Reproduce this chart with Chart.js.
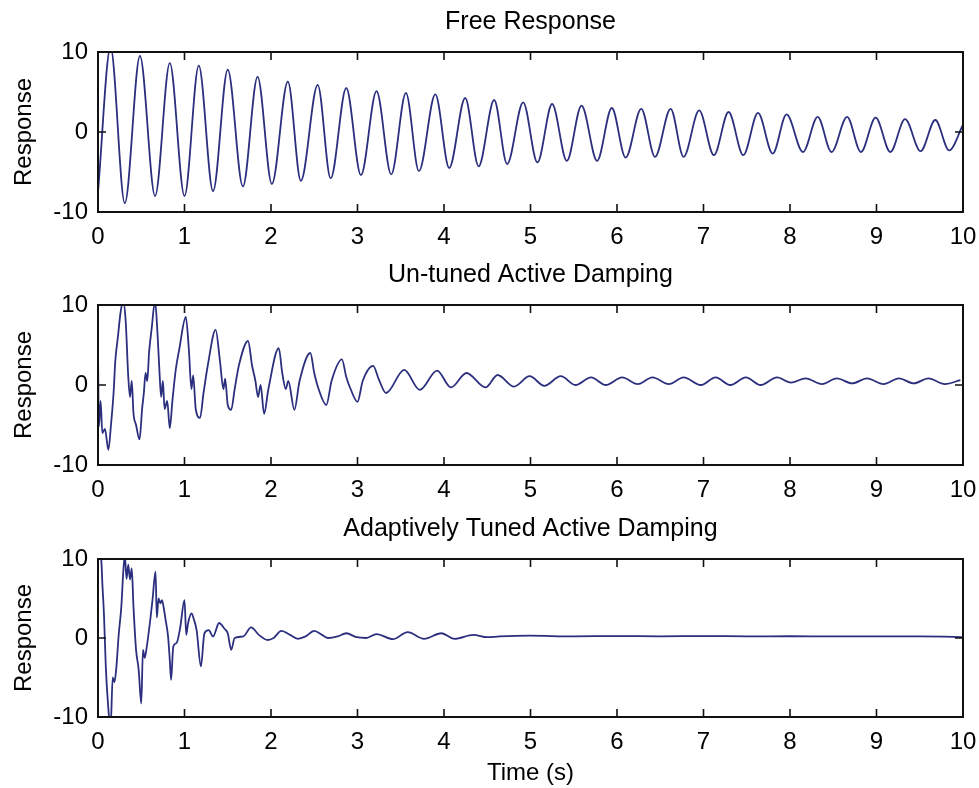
<!DOCTYPE html>
<html>
<head>
<meta charset="utf-8">
<script src="https://cdn.jsdelivr.net/npm/chart.js@4/dist/chart.umd.min.js"></script>
<style>
  body { margin: 0; background: #fff; }
  canvas { position: absolute; left: 0; }
</style>
</head>
<body>
<canvas id="freeCanvas" width="979" height="252" style="top:0px"></canvas>
<canvas id="untunedCanvas" width="979" height="252" style="top:253px"></canvas>
<canvas id="tunedCanvas" width="979" height="281" style="top:507px"></canvas>
<script>
// Free Response: peaks and troughs
const freeTime = [0, 0.145, 0.31, 0.485, 0.66, 0.83, 1.0, 1.165, 1.33, 1.5, 1.675, 1.845, 2.01, 2.195, 2.345, 2.54, 2.69, 2.87, 3.04, 3.22,
  3.39, 3.56, 3.71, 3.9, 4.06, 4.245, 4.4, 4.58, 4.73, 4.915, 5.08, 5.25, 5.42, 5.59, 5.77, 5.94, 6.1, 6.28, 6.44, 6.62,
  6.77, 6.95, 7.12, 7.29, 7.46, 7.63, 7.8, 7.96, 8.15, 8.32, 8.48, 8.66, 8.82, 8.99, 9.16, 9.33, 9.51, 9.68, 9.84, 10];
const freeResp = [-7.5, 10.6, -8.9, 9.5, -8.0, 8.6, -8.0, 8.3, -7.4, 7.8, -6.8, 6.9, -6.5, 6.3, -6.1, 5.9, -5.8, 5.5, -5.4, 5.1,
  -5.3, 4.9, -4.9, 4.7, -4.5, 4.25, -4.3, 4.0, -4.0, 3.7, -3.8, 3.5, -3.6, 3.3, -3.6, 3.0, -3.2, 2.9, -3.1, 2.9,
  -3.1, 2.7, -2.9, 2.5, -2.9, 2.4, -2.7, 2.2, -2.5, 1.9, -2.5, 1.9, -2.5, 1.8, -2.5, 1.6, -2.4, 1.5, -2.3, 0.9];

// Un-tuned Active Damping
const untunedTime = [0, 0.01, 0.03, 0.05, 0.08, 0.12, 0.15, 0.18, 0.2, 0.23, 0.26, 0.29, 0.32, 0.35, 0.37, 0.39, 0.41, 0.44, 0.48,
  0.51, 0.53, 0.55, 0.57, 0.59, 0.62, 0.66, 0.69, 0.71, 0.73, 0.75, 0.77, 0.8, 0.83, 0.86, 0.9, 0.94, 1.015, 1.05, 1.08,
  1.1, 1.13, 1.18, 1.22, 1.27, 1.36, 1.41, 1.45, 1.47, 1.5, 1.54, 1.58, 1.63, 1.735, 1.78, 1.82, 1.85, 1.88, 1.92, 1.97,
  2.09, 2.13, 2.17, 2.2, 2.27, 2.33, 2.455, 2.5, 2.55, 2.64, 2.7, 2.82, 2.87, 2.92, 3.0, 3.06, 3.18, 3.25, 3.33, 3.54,
  3.72, 3.92, 4.08, 4.26, 4.48, 4.62, 4.81, 4.99, 5.16, 5.35, 5.52, 5.7, 5.87, 6.06, 6.24, 6.41, 6.6, 6.77, 6.97, 7.14,
  7.31, 7.49, 7.66, 7.85, 8.01, 8.18, 8.37, 8.54, 8.72, 8.89, 9.08, 9.26, 9.43, 9.6, 9.79, 9.97];
const untunedResp = [4.4, -5.2, -2, -6, -5.5, -8.1, -5, -1, 3, 6, 9, 10.5, 8, 1, -1.5, 0.5, -3.5, -5, -6.8,
  -3, -1, 1.5, 0.5, 4, 7, 10.5, 6, 1.8, -1.5, 0.5, -3, -2, -5.4, -2, 2, 4.5, 8.5, 4.5, -0.5,
  1.2, -3, -4.1, -1, 2.5, 6.9, 3, -0.5, 0.8, -2.5, -3.1, -0.5, 2.5, 5.5, 2.5, 0.5, -1.5, 0, -3.6, -0.5,
  4.6, 1.5, -0.5, 0.5, -3.1, 0.5, 4.0, 1.5, -0.5, -2.5, 0.5, 3.2, 1, -0.5, -2.1, 0.5, 2.4, 0.6, -1.0, 1.9,
  -0.6, 1.8, -0.3, 1.5, -0.3, 1.25, -0.2, 1.1, -0.1, 1.1, 0.0, 0.95, 0.0, 0.95, 0.1, 0.95, 0.1, 0.95, 0.0, 0.95,
  0.0, 0.95, 0.0, 0.95, 0.3, 0.83, 0.12, 0.83, 0.2, 0.83, 0.12, 0.83, 0.2, 0.83, 0.12, 0.6];

// Adaptively Tuned Active Damping
const tunedTime = [0, 0.04, 0.05, 0.07, 0.09, 0.12, 0.145, 0.17, 0.19, 0.21, 0.24, 0.27, 0.29, 0.31, 0.33, 0.35, 0.37, 0.39,
  0.41, 0.44, 0.47, 0.5, 0.52, 0.54, 0.56, 0.6, 0.63, 0.665, 0.68, 0.7, 0.72, 0.74, 0.76, 0.78, 0.81, 0.83, 0.845,
  0.87, 0.91, 0.95, 1.0, 1.02, 1.04, 1.08, 1.11, 1.14, 1.19, 1.23, 1.28, 1.33, 1.4, 1.46, 1.5, 1.54, 1.58, 1.68,
  1.77, 1.86, 1.96, 2.03, 2.12, 2.22, 2.31, 2.4, 2.5, 2.59, 2.66, 2.77, 2.87, 2.99, 3.1, 3.22, 3.41, 3.58, 3.77,
  3.97, 4.12, 4.34, 4.5, 4.64, 4.99, 5.5, 6.0, 6.5, 7.0, 7.5, 8.0, 8.5, 9.0, 9.5, 9.98, 10];
const tunedResp = [13, 9.5, 7.0, 2.7, -3.6, -9, -11.5, -5, -5.6, -4, 0.5, 4, 8, 10.5, 7.5, 9.3, 7.4, 8.8,
  4, -1.5, -4, -8.3, -1.5, -2.5, -1.4, 1.9, 4.8, 8.4, 2.6, 5, 4.4, 4.8, 3.8, 2.4, 0.2, -2.8, -5.3,
  -1.1, -0.6, 1.3, 4.8, 0.4, 1.8, 3.1, 2.3, 1.0, -3.6, 0.6, 1.0, 0.2, 1.9, 1.2, 0.6, -1.5, 0, 0.2,
  1.35, 0.4, -0.25, 0, 0.9, 0.4, -0.1, 0.2, 0.9, 0.4, 0, 0.2, 0.6, 0.1, 0.0, 0.5, -0.15, 0.75, -0.1,
  0.6, -0.1, 0.4, 0.1, 0.2, 0.3, 0.2, 0.25, 0.2, 0.25, 0.2, 0.22, 0.2, 0.2, 0.2, 0.1, 0.0];

const xTicks = [0, 1, 2, 3, 4, 5, 6, 7, 8, 9, 10];
const yTicks = [-10, 0, 10];

const FONT = "'Liberation Sans', Arial, Helvetica, sans-serif";
Chart.defaults.font.family = FONT;
Chart.defaults.color = '#000';

// MATLAB style box with inward ticks on all four sides
const boxPlugin = {
  id: 'box',
  afterDatasetsDraw(chart) {
    const {ctx, chartArea: a, scales: {x, y}} = chart;
    const len = 8;
    ctx.save();
    ctx.strokeStyle = '#111';
    ctx.lineWidth = 1.6;
    ctx.beginPath();
    xTicks.forEach(v => {
      const px = x.getPixelForValue(v);
      ctx.moveTo(px, a.top); ctx.lineTo(px, a.top + len);
      ctx.moveTo(px, a.bottom); ctx.lineTo(px, a.bottom - len);
    });
    yTicks.forEach(v => {
      const py = y.getPixelForValue(v);
      ctx.moveTo(a.left, py); ctx.lineTo(a.left + len, py);
      ctx.moveTo(a.right, py); ctx.lineTo(a.right - len, py);
    });
    ctx.stroke();
    ctx.lineWidth = 2;
    ctx.strokeRect(a.left, a.top, a.right - a.left, a.bottom - a.top);
    ctx.restore();
  }
};

function makeChart(id, title, times, values, xTitle) {
  const ctx = document.getElementById(id).getContext('2d');
  return new Chart(ctx, {
    type: 'line',
    data: {
      datasets: [{
        data: times.map((t, i) => ({x: t, y: values[i]})),
        borderColor: '#2b2f7e',
        borderWidth: 1.8,
        pointRadius: 0,
        fill: false,
        cubicInterpolationMode: 'monotone',
        clip: 0
      }]
    },
    options: {
      responsive: false,
      animation: false,
      layout: { padding: { top: 7, right: 16, left: 0, bottom: 0 } },
      plugins: {
        legend: { display: false },
        tooltip: { enabled: false },
        title: {
          display: true,
          text: title,
          fullSize: false,
          font: { size: 25, weight: 'normal' },
          padding: { top: 0, bottom: 15 }
        }
      },
      scales: {
        x: {
          type: 'linear',
          min: 0, max: 10,
          afterBuildTicks: s => { s.ticks = xTicks.map(v => ({value: v})); },
          ticks: { font: { size: 24 }, padding: 11, maxRotation: 0, color: '#000' },
          grid: { display: false, drawTicks: false },
          border: { display: false },
          title: { display: !!xTitle, text: xTitle || '', font: { size: 24 }, padding: { top: 0, bottom: 0 }, color: '#000' },
          afterFit: s => { s.height = xTitle ? 71 : 40; s.paddingLeft = 0; s.paddingRight = 0; }
        },
        y: {
          min: -10, max: 10,
          afterBuildTicks: s => { s.ticks = yTicks.map(v => ({value: v})); },
          ticks: { font: { size: 24 }, padding: 10, color: '#000' },
          grid: { display: false, drawTicks: false },
          border: { display: false },
          title: { display: true, text: 'Response', font: { size: 24 }, padding: { top: 10, bottom: 0 }, color: '#000' },
          afterFit: s => { s.width = 98; }
        }
      }
    },
    plugins: [boxPlugin]
  });
}

makeChart('freeCanvas', 'Free Response', freeTime, freeResp);
makeChart('untunedCanvas', 'Un-tuned Active Damping', untunedTime, untunedResp);
makeChart('tunedCanvas', 'Adaptively Tuned Active Damping', tunedTime, tunedResp, 'Time (s)');
</script>
</body>
</html>
